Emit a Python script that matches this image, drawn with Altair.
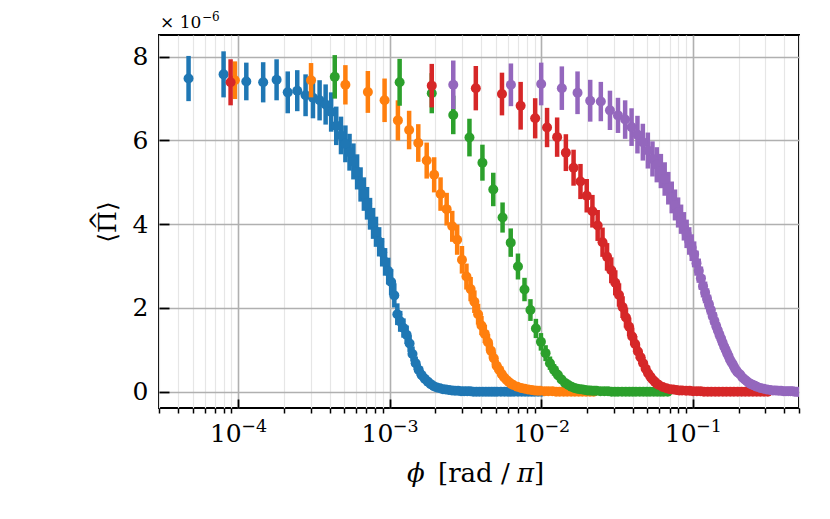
import altair as alt
import pandas as pd

# ---------------- data ----------------
series_names = ["s1", "s2", "s3", "s4", "s5"]
series_colors = ["#1f77b4", "#ff7f0e", "#2ca02c", "#d62728", "#9467bd"]

blue_x = [4.7e-5, 8.0e-5, 1.13e-4, 1.46e-4, 1.79e-4, 2.12e-4, 2.45e-4, 2.78e-4, 3.11e-4, 3.44e-4,
          3.77e-4, 4.10e-4, 4.43e-4, 4.76e-4, 5.09e-4, 5.42e-4, 5.75e-4, 6.08e-4, 6.41e-4, 6.74e-4,
          7.07e-4, 7.40e-4, 7.75e-4, 8.10e-4, 8.50e-4, 8.90e-4, 9.30e-4, 9.75e-4, 1.02e-3, 1.07e-3,
          1.12e-3, 1.17e-3, 1.23e-3, 1.29e-3, 1.35e-3, 1.41e-3, 1.48e-3, 1.55e-3, 1.62e-3, 1.70e-3,
          1.78e-3, 1.86e-3, 1.95e-3, 2.04e-3, 2.14e-3, 2.24e-3, 2.34e-3, 2.45e-3, 2.57e-3, 2.69e-3,
          2.82e-3, 2.95e-3, 3.09e-3, 3.24e-3, 3.39e-3, 3.55e-3, 3.72e-3, 3.90e-3, 4.10e-3, 4.30e-3,
          4.50e-3, 4.70e-3, 4.90e-3, 5.10e-3, 5.40e-3, 5.70e-3, 6.00e-3, 6.30e-3, 6.60e-3, 7.00e-3,
          7.40e-3, 7.80e-3, 8.20e-3, 8.60e-3, 9.00e-3, 9.50e-3, 1.00e-2]
blue_y = [7.48, 7.58, 7.41, 7.39, 7.45, 7.15, 7.19, 7.08, 7.02, 6.96,
          6.86, 6.68, 6.35, 6.12, 5.92, 5.72, 5.50, 5.25, 4.95, 4.72,
          4.50, 4.25, 4.02, 3.82, 3.58, 3.33, 3.10, 2.88, 2.62, 2.30,
          1.85, 1.68, 1.52, 1.36, 1.15, 0.90, 0.68, 0.52, 0.40, 0.31,
          0.24, 0.18, 0.13, 0.10, 0.08, 0.06, 0.05, 0.04, 0.03, 0.02,
          0.02, 0.01, 0.01, 0.01, 0.01, 0.00, 0.00, 0.00, 0.00, 0.00,
          0.00, 0.00, 0.00, 0.00, 0.00, 0.00, 0.00, 0.00, 0.00, 0.00,
          0.00, 0.00, 0.00, 0.00, 0.00, 0.00, 0.00]
blue_err = [0.54, 0.55, 0.45, 0.48, 0.49, 0.50, 0.49, 0.50, 0.49, 0.48,
            0.48, 0.47, 0.46, 0.45, 0.44, 0.44, 0.43, 0.42, 0.41, 0.40,
            0.39, 0.38, 0.37, 0.36, 0.35, 0.34, 0.33, 0.32, 0.31, 0.29,
            0.26, 0.25, 0.23, 0.22, 0.20, 0.18, 0.16, 0.14, 0.12, 0.11,
            0.09, 0.08, 0.07, 0.06, 0.05, 0.04, 0.04, 0.03, 0.03, 0.02,
            0.02, 0.02, 0.01, 0.01, 0.01, 0.01, 0.01, 0.01, 0.01, 0.01,
            0.01, 0.01, 0.01, 0.01, 0.01, 0.01, 0.01, 0.01, 0.01, 0.01,
            0.01, 0.01, 0.01, 0.01, 0.01, 0.01, 0.01]

orange_x = [9.5e-5, 3.02e-4, 5.09e-4, 7.16e-4, 9.23e-4, 1.13e-3, 1.34e-3, 1.54e-3, 1.75e-3, 1.96e-3,
            2.16e-3, 2.37e-3, 2.58e-3, 2.78e-3, 2.99e-3, 3.20e-3, 3.41e-3, 3.61e-3, 3.82e-3, 4.02e-3,
            4.23e-3, 4.44e-3, 4.64e-3, 4.85e-3, 5.06e-3, 5.27e-3, 5.47e-3, 5.68e-3, 5.89e-3, 6.09e-3,
            6.30e-3, 6.51e-3, 6.92e-3, 7.34e-3, 7.75e-3, 8.16e-3, 8.58e-3, 9.00e-3, 9.40e-3, 9.80e-3,
            1.05e-2, 1.11e-2, 1.18e-2, 1.25e-2, 1.32e-2, 1.40e-2, 1.48e-2, 1.57e-2, 1.66e-2, 1.76e-2,
            1.86e-2, 1.97e-2, 2.09e-2, 2.21e-2]
orange_y = [7.44, 7.44, 7.33, 7.16, 6.96, 6.48, 6.25, 5.94, 5.52, 5.18,
            4.72, 4.36, 3.95, 3.63, 3.15, 2.75, 2.45, 2.15, 1.85, 1.58,
            1.38, 1.18, 0.98, 0.80, 0.62, 0.52, 0.42, 0.34, 0.28, 0.23,
            0.19, 0.16, 0.12, 0.09, 0.07, 0.05, 0.04, 0.03, 0.02, 0.02,
            0.01, 0.01, 0.01, 0.00, 0.00, 0.00, 0.00, 0.00, 0.00, 0.00,
            0.00, 0.00, 0.00, 0.00]
orange_err = [0.45, 0.41, 0.47, 0.50, 0.52, 0.48, 0.46, 0.45, 0.43, 0.42,
              0.40, 0.39, 0.37, 0.36, 0.33, 0.31, 0.29, 0.27, 0.25, 0.23,
              0.22, 0.20, 0.18, 0.16, 0.14, 0.13, 0.12, 0.10, 0.09, 0.08,
              0.07, 0.06, 0.05, 0.04, 0.04, 0.03, 0.03, 0.02, 0.02, 0.02,
              0.01, 0.01, 0.01, 0.01, 0.01, 0.01, 0.01, 0.01, 0.01, 0.01,
              0.01, 0.01, 0.01, 0.01]

green_x = [4.33e-4, 1.16e-3, 1.89e-3, 2.62e-3, 3.35e-3, 4.08e-3, 4.81e-3, 5.54e-3, 6.27e-3, 7.00e-3,
           7.73e-3, 8.46e-3, 9.19e-3, 9.92e-3, 1.065e-2, 1.138e-2, 1.211e-2, 1.284e-2, 1.357e-2, 1.430e-2,
           1.503e-2, 1.576e-2, 1.649e-2, 1.722e-2, 1.795e-2, 1.868e-2, 1.941e-2, 2.014e-2, 2.087e-2, 2.160e-2,
           2.233e-2, 2.306e-2, 2.45e-2, 2.60e-2, 2.75e-2, 2.90e-2, 3.05e-2, 3.20e-2, 3.40e-2, 3.60e-2,
           3.80e-2, 4.00e-2, 4.20e-2, 4.45e-2, 4.70e-2, 4.95e-2, 5.20e-2, 5.50e-2, 5.80e-2, 6.10e-2,
           6.40e-2, 6.80e-2]
green_y = [7.52, 7.39, 7.13, 6.61, 6.07, 5.47, 4.83, 4.16, 3.56, 2.99,
           2.44, 1.95, 1.51, 1.19, 0.92, 0.68, 0.52, 0.40, 0.29, 0.21,
           0.16, 0.12, 0.09, 0.07, 0.06, 0.05, 0.04, 0.03, 0.03, 0.02,
           0.02, 0.02, 0.01, 0.01, 0.01, 0.00, 0.00, 0.00, 0.00, 0.00,
           0.00, 0.00, 0.00, 0.00, 0.00, 0.00, 0.00, 0.00, 0.00, 0.00,
           0.00, 0.00]
green_err = [0.52, 0.56, 0.48, 0.46, 0.45, 0.43, 0.40, 0.36, 0.34, 0.31,
             0.28, 0.26, 0.23, 0.21, 0.19, 0.16, 0.14, 0.12, 0.10, 0.09,
             0.08, 0.07, 0.06, 0.05, 0.04, 0.04, 0.03, 0.03, 0.02, 0.02,
             0.02, 0.02, 0.01, 0.01, 0.01, 0.01, 0.01, 0.01, 0.01, 0.01,
             0.01, 0.01, 0.01, 0.01, 0.01, 0.01, 0.01, 0.01, 0.01, 0.01,
             0.01, 0.01]

red_x = [8.9e-5, 1.89e-3, 3.69e-3, 5.49e-3, 7.29e-3, 9.09e-3, 1.089e-2, 1.269e-2, 1.449e-2, 1.629e-2,
         1.809e-2, 1.989e-2, 2.169e-2, 2.349e-2, 2.529e-2, 2.709e-2, 2.889e-2, 3.069e-2, 3.249e-2, 3.429e-2,
         3.609e-2, 3.789e-2, 3.969e-2, 4.149e-2, 4.329e-2, 4.509e-2, 4.689e-2, 4.869e-2, 5.049e-2, 5.229e-2,
         5.409e-2, 5.589e-2, 5.769e-2, 5.949e-2, 6.309e-2, 6.669e-2, 7.029e-2, 7.389e-2, 7.749e-2, 8.109e-2,
         8.469e-2, 9.0e-2, 9.5e-2, 1.0e-1, 1.06e-1, 1.12e-1, 1.18e-1, 1.25e-1, 1.32e-1, 1.40e-1,
         1.48e-1, 1.57e-1, 1.66e-1, 1.76e-1, 1.86e-1, 1.97e-1, 2.09e-1, 2.21e-1, 2.34e-1, 2.48e-1,
         2.63e-1, 2.78e-1, 2.94e-1, 3.11e-1]
red_y = [7.39, 7.31, 7.25, 7.11, 6.83, 6.53, 6.31, 6.08, 5.71, 5.35,
         5.02, 4.68, 4.31, 3.97, 3.57, 3.22, 2.90, 2.60, 2.31, 2.02,
         1.77, 1.55, 1.32, 1.14, 0.96, 0.82, 0.68, 0.55, 0.44, 0.36,
         0.29, 0.24, 0.19, 0.16, 0.11, 0.08, 0.06, 0.05, 0.04, 0.03,
         0.03, 0.02, 0.02, 0.01, 0.01, 0.01, 0.00, 0.00, 0.00, 0.00,
         0.00, 0.00, 0.00, 0.00, 0.00, 0.00, 0.00, 0.00, 0.00, 0.00,
         0.00, 0.00, 0.00, 0.00]
red_err = [0.55, 0.52, 0.53, 0.51, 0.57, 0.48, 0.47, 0.47, 0.44, 0.43,
           0.42, 0.40, 0.39, 0.37, 0.35, 0.33, 0.31, 0.30, 0.28, 0.26,
           0.24, 0.22, 0.21, 0.19, 0.18, 0.16, 0.15, 0.13, 0.12, 0.11,
           0.10, 0.09, 0.08, 0.07, 0.06, 0.05, 0.04, 0.04, 0.03, 0.03,
           0.02, 0.02, 0.02, 0.01, 0.01, 0.01, 0.01, 0.01, 0.01, 0.01,
           0.01, 0.01, 0.01, 0.01, 0.01, 0.01, 0.01, 0.01, 0.01, 0.01,
           0.01, 0.01, 0.01, 0.01]

purple_x = [2.62e-3, 6.29e-3, 9.96e-3, 1.363e-2, 1.730e-2, 2.097e-2, 2.464e-2, 2.831e-2, 3.198e-2, 3.565e-2,
            3.932e-2, 4.299e-2, 4.666e-2, 5.033e-2, 5.400e-2, 5.767e-2, 6.134e-2, 6.501e-2, 6.868e-2, 7.235e-2,
            7.602e-2, 7.969e-2, 8.336e-2, 8.703e-2, 9.070e-2, 9.437e-2, 9.804e-2, 1.017e-1, 1.054e-1, 1.091e-1,
            1.127e-1, 1.164e-1, 1.201e-1, 1.237e-1, 1.274e-1, 1.311e-1, 1.347e-1, 1.384e-1, 1.421e-1, 1.458e-1,
            1.494e-1, 1.531e-1, 1.568e-1, 1.604e-1, 1.641e-1, 1.678e-1, 1.714e-1, 1.751e-1, 1.788e-1, 1.825e-1,
            1.861e-1, 1.898e-1, 1.935e-1, 1.971e-1, 2.045e-1, 2.118e-1, 2.192e-1, 2.265e-1, 2.338e-1, 2.412e-1,
            2.485e-1, 2.559e-1, 2.632e-1, 2.779e-1, 2.926e-1, 3.072e-1, 3.219e-1, 3.366e-1, 3.513e-1, 3.660e-1,
            3.806e-1, 3.953e-1, 4.100e-1, 4.247e-1, 4.394e-1, 4.540e-1, 4.687e-1, 4.834e-1, 4.981e-1]
purple_y = [7.33, 7.33, 7.35, 7.25, 7.14, 6.95, 6.93, 6.72, 6.60, 6.50,
            6.32, 6.14, 5.96, 5.76, 5.56, 5.42, 5.27, 5.08, 4.86, 4.64,
            4.46, 4.28, 4.12, 3.95, 3.77, 3.60, 3.44, 3.28, 3.07, 2.89,
            2.71, 2.52, 2.37, 2.22, 2.08, 1.95, 1.81, 1.69, 1.57, 1.46,
            1.36, 1.27, 1.17, 1.08, 1.00, 0.92, 0.85, 0.77, 0.71, 0.66,
            0.60, 0.54, 0.50, 0.46, 0.41, 0.34, 0.29, 0.25, 0.21, 0.18,
            0.16, 0.14, 0.12, 0.09, 0.07, 0.05, 0.04, 0.03, 0.03, 0.02,
            0.02, 0.01, 0.01, 0.01, 0.01, 0.01, 0.00, 0.00, 0.00]
purple_err = [0.58, 0.51, 0.51, 0.52, 0.51, 0.50, 0.47, 0.47, 0.42, 0.46,
              0.45, 0.45, 0.44, 0.43, 0.42, 0.42, 0.41, 0.40, 0.39, 0.38,
              0.37, 0.36, 0.35, 0.34, 0.34, 0.33, 0.32, 0.31, 0.30, 0.29,
              0.28, 0.27, 0.26, 0.25, 0.24, 0.23, 0.22, 0.21, 0.20, 0.20,
              0.19, 0.18, 0.17, 0.16, 0.16, 0.15, 0.14, 0.13, 0.13, 0.12,
              0.11, 0.10, 0.10, 0.09, 0.08, 0.07, 0.06, 0.05, 0.05, 0.04,
              0.04, 0.03, 0.03, 0.02, 0.02, 0.02, 0.02, 0.02, 0.02, 0.01,
              0.01, 0.01, 0.01, 0.01, 0.01, 0.01, 0.01, 0.01, 0.01]

all_x = [blue_x, orange_x, green_x, red_x, purple_x]
all_y = [blue_y, orange_y, green_y, red_y, purple_y]
all_err = [blue_err, orange_err, green_err, red_err, purple_err]

x_domain = [3e-5, 0.5]
y_domain = [-0.39, 8.52]
x_major = [1e-4, 1e-3, 1e-2, 1e-1]
x_tick_base = "10"
x_tick_exponents = ["−4", "−3", "−2", "−1"]
x_minor = [m * 10.0 ** e for e in (-5, -4, -3, -2, -1) for m in range(2, 10)]
x_minor = [v for v in x_minor if x_domain[0] * 0.999 <= v <= x_domain[1] * 1.001]
y_ticks = [0, 2, 4, 6, 8]
# x-axis title "ϕ [rad / π]" in pieces (italic symbols, upright text)
x_title_pieces = ["ϕ", "[rad /", "π", "]"]
x_title_italic = [True, False, True, False]
y_title = "⟨Π⟩"
y_title_hat = "^"
offset_base = "× 10"
offset_exp = "−6"

SERIF = "DejaVu Serif"
W, H = 640, 373

# ---------------- chart ----------------
xs = alt.Scale(type="log", domain=x_domain, nice=False)
ys = alt.Scale(domain=y_domain, nice=False, zero=False)

frames = []
for name, xv, yv, ev in zip(series_names, all_x, all_y, all_err):
    frames.append(pd.DataFrame({
        "series": name,
        "phi": xv,
        "val": yv,
        "lo": [a - b for a, b in zip(yv, ev)],
        "hi": [a + b for a, b in zip(yv, ev)],
    }))
df_all = pd.concat(frames, ignore_index=True)

tick_df = pd.DataFrame({"phi": x_major, "val": [0.0] * len(x_major), "exp": x_tick_exponents})

no_tick_axis = dict(ticks=False, labels=False, domain=False, title=None)

# minor vertical grid + horizontal grid + minor outward ticks
grid_minor = alt.Chart(tick_df).mark_point(opacity=0, size=0).encode(
    x=alt.X("phi:Q", scale=xs, axis=alt.Axis(
        values=x_minor, orient="bottom", grid=True, gridColor="#e6e6e6", gridWidth=1.2,
        ticks=True, tickSize=5, tickWidth=1.5, tickColor="black",
        labels=False, domain=False, title=None)),
    y=alt.Y("val:Q", scale=ys, axis=alt.Axis(
        values=y_ticks, orient="left", grid=True, gridColor="#b0b0b0", gridWidth=1.5,
        **no_tick_axis)),
)

grid_major = alt.Chart(tick_df).mark_point(opacity=0, size=0).encode(
    x=alt.X("phi:Q", scale=xs, axis=alt.Axis(
        values=x_major, orient="bottom", grid=True, gridColor="#b0b0b0", gridWidth=1.6,
        **no_tick_axis)),
    y=alt.Y("val:Q", scale=ys, axis=None),
)

major_axes = alt.Chart(tick_df).mark_point(opacity=0, size=0).encode(
    x=alt.X("phi:Q", scale=xs, axis=alt.Axis(
        values=x_major, orient="bottom", offset=-9, tickSize=9, tickWidth=1.8,
        tickColor="black", grid=False, domain=False,
        labelExpr=f"'{x_tick_base}'", labelAlign="right", labelOffset=3,
        labelFont=SERIF, labelFontSize=25, labelColor="black",
        labelPadding=13, labelFlush=False, labelOverlap=False, title=None)),
    y=alt.Y("val:Q", scale=ys, axis=alt.Axis(
        values=y_ticks, orient="left", offset=-10, tickSize=10, tickWidth=1.8,
        tickColor="black", grid=False, domain=False,
        labelFont=SERIF, labelFontSize=25, labelColor="black", labelPadding=11,
        labelFlush=False, labelOverlap=False,
        title=y_title, titleFont=SERIF, titleFontSize=25, titleFontWeight="normal",
        titleColor="black", titlePadding=12)),
)

# hat over the Π of the y title
hat_df = pd.DataFrame({"t": [y_title_hat]})
y_hat = alt.Chart(hat_df).mark_text(
    font=SERIF, fontSize=24, align="center", baseline="middle", angle=270, color="black"
).encode(x=alt.value(-59), y=alt.value(H / 2 - 1), text="t:N")

# x title pieces
title_x_pos = [248, 279, 358, 375]
title_layers = []
for piece, ital, px in zip(x_title_pieces, x_title_italic, title_x_pos):
    tdf = pd.DataFrame({"t": [piece]})
    title_layers.append(alt.Chart(tdf).mark_text(
        font=SERIF, fontSize=26, fontStyle="italic" if ital else "normal",
        align="left", baseline="alphabetic", color="black"
    ).encode(x=alt.value(px), y=alt.value(H + 74), text="t:N"))

# superscript exponents of the x tick labels
tick_exp = alt.Chart(tick_df).mark_text(
    font=SERIF, fontSize=17.5, align="left", baseline="alphabetic", dx=3, color="black"
).encode(
    x=alt.X("phi:Q", scale=xs, axis=None),
    y=alt.value(H + 24),
    text="exp:N",
)

# offset text "× 10^-6" above the plot
off_df = pd.DataFrame({"base": [offset_base], "exp": [offset_exp]})
off_base = alt.Chart(off_df).mark_text(
    font=SERIF, fontSize=17, align="left", baseline="alphabetic", color="black"
).encode(x=alt.value(1), y=alt.value(-7), text="base:N")
off_exp = alt.Chart(off_df).mark_text(
    font=SERIF, fontSize=12, align="left", baseline="alphabetic", color="black"
).encode(x=alt.value(43), y=alt.value(-14), text="exp:N")

layers = [grid_minor, grid_major, major_axes]
for name, color in zip(series_names, series_colors):
    sub = df_all[df_all["series"] == name]
    bars = alt.Chart(sub).mark_rule(color=color, strokeWidth=4.5, clip=True).encode(
        x=alt.X("phi:Q", scale=xs, axis=None),
        y=alt.Y("lo:Q", scale=ys, axis=None),
        y2="hi:Q",
    )
    pts = alt.Chart(sub).mark_circle(color=color, size=100, opacity=1, clip=True).encode(
        x=alt.X("phi:Q", scale=xs, axis=None),
        y=alt.Y("val:Q", scale=ys, axis=None),
    )
    layers += [bars, pts]
layers += [tick_exp, off_base, off_exp, y_hat] + title_layers

chart = alt.layer(*layers).resolve_axis(x="independent", y="independent").properties(
    width=W,
    height=H,
    autosize=alt.AutoSizeParams(type="none"),
    padding={"left": 151, "top": 27, "right": 23, "bottom": 103},
).configure_view(stroke="black", strokeWidth=2)

chart.save("out.html", embed_options={"renderer": "svg", "actions": False})
